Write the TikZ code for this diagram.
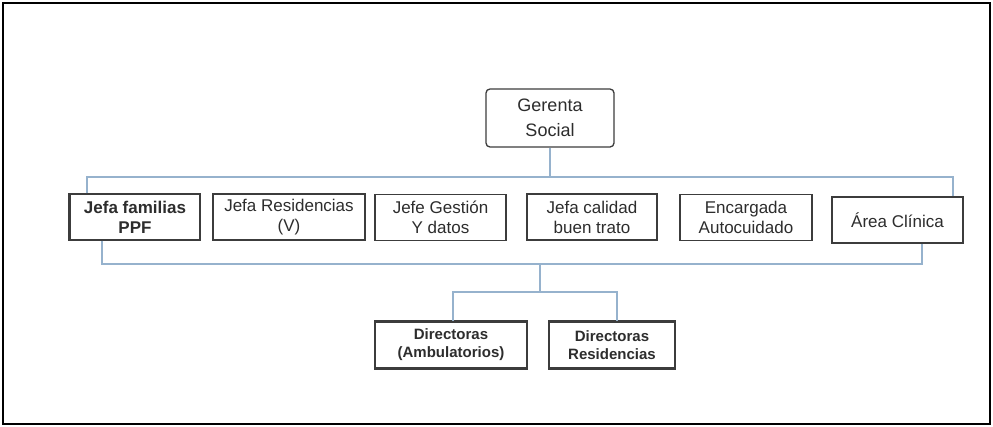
\documentclass[tikz,border=0pt]{standalone}
\usepackage{fontspec}
\setmainfont{Liberation Sans}
\definecolor{conn}{RGB}{150,178,205}
\definecolor{boxline}{RGB}{60,60,60}
\definecolor{txt}{RGB}{45,45,45}
\begin{document}
\begin{tikzpicture}[x=1pt,y=-1pt,
  orgbox/.style={draw=boxline,line width=1.3pt,fill=white,inner sep=0pt,align=center,text=txt,
    minimum height=46pt,font=\fontsize{17}{20}\selectfont},
  topbox/.style={orgbox,rounded corners=4pt,minimum width=128pt,minimum height=58pt,font=\fontsize{18}{25}\selectfont},
  dirbox/.style={orgbox,line width=1.8pt,font=\fontsize{15}{18}\selectfont},
  link/.style={draw=conn,line width=1.3pt}]
\useasboundingbox (0,0) rectangle (993,426);
\fill[white] (0,0) rectangle (993,426);
\draw[line width=2.2pt,black] (3,3) rectangle (990,424);

\node[topbox] (ger) at (550,118) {Gerenta\\Social};

\node[orgbox,minimum width=130pt,font=\fontsize{17}{20}\selectfont\bfseries] (b1) at (135,217) {Jefa familias\\PPF};
\node[orgbox,minimum width=152pt] (b2) at (289,217) {Jefa Residencias\\(V)};
\node[orgbox,minimum width=131pt] (b3) at (440.5,217.5) {Jefe Gestión\\Y datos};
\node[orgbox,minimum width=130pt] (b4) at (592,217) {Jefa calidad\\buen trato};
\node[orgbox,minimum width=132pt] (b5) at (746,217.5) {Encargada\\Autocuidado};
\node[orgbox,minimum width=131pt] (b6) at (897.5,220) {Área Clínica};

\node[dirbox,minimum width=152pt,font=\fontsize{15}{18}\selectfont\bfseries] (d1) at (451,345) {Directoras\\(Ambulatorios)};
\node[dirbox,minimum width=126pt,font=\fontsize{15}{18}\selectfont\bfseries] (d2) at (612,345) {Directoras\\Residencias};

\draw[boxline,line width=2.6pt] (b1.north west) -- (b1.south west);
\draw[boxline,line width=2.8pt] (d1.north west) -- (d1.north east);
\draw[boxline,line width=2.8pt] (d1.south west) -- (d1.south east);
\draw[boxline,line width=2.8pt] (d2.north west) -- (d2.north east);
\draw[boxline,line width=2.8pt] (d2.south west) -- (d2.south east);

\coordinate (tl) at (87,177);
\coordinate (tr) at (953,177);
\coordinate (bl) at (102,264);
\coordinate (br) at (922,264);
\coordinate (bm) at (540,264);
\coordinate (dm) at (540,292);
\coordinate (dl) at (453,292);
\coordinate (dr) at (617,292);

\draw[link] (ger.south) -- (ger.south |- tl);
\draw[link] (b1.north -| tl) -- (tl) -- (tr) -- (b6.north -| tr);
\draw[link] (b1.south -| bl) -- (bl) -- (br) -- (b6.south -| br);
\draw[link] (bm) -- (dm);
\draw[link] (d1.north -| dl) -- (dl) -- (dr) -- (d2.north -| dr);
\end{tikzpicture}
\end{document}
